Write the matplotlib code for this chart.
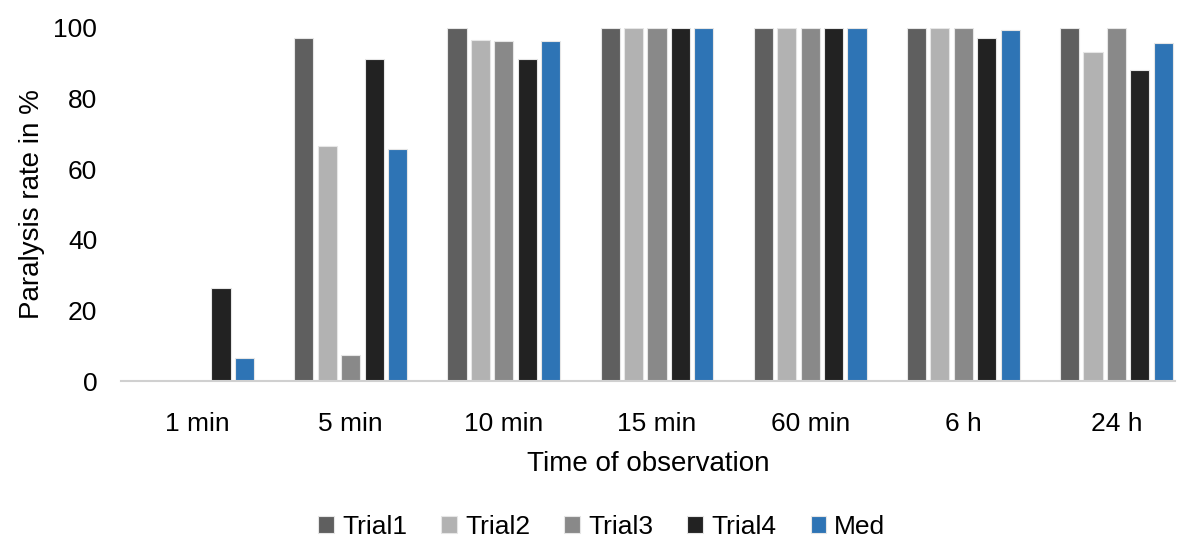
import numpy as np
import matplotlib.pyplot as plt

plt.rcParams['font.family'] = ['Liberation Sans', 'DejaVu Sans']

# data
times = ['1 min', '5 min', '10 min', '15 min', '60 min', '6 h', '24 h']
trial1 = [0, 97.0, 100, 100, 100, 100, 100]
trial2 = [0, 66.6, 96.7, 100, 100, 100, 93.3]
trial3 = [0, 7.5, 96.2, 100, 100, 100, 100]
trial4 = [26.4, 91.1, 91.2, 100, 100, 97.0, 88.1]
med = [6.6, 65.8, 96.3, 100, 100, 99.4, 95.6]

series = [('Trial1', trial1, '#5f5f5f'),
          ('Trial2', trial2, '#b2b2b2'),
          ('Trial3', trial3, '#898989'),
          ('Trial4', trial4, '#222222'),
          ('Med', med, '#2e74b5')]

fig = plt.figure(figsize=(11.8, 5.46), dpi=100)
ax = fig.add_axes([0.1025, 0.302, 0.893, 0.647])

x = np.arange(len(times))
step = 0.153
width = 0.125
for i, (name, vals, col) in enumerate(series):
    ax.bar(x + (i - 2) * step, vals, width, color=col, label=name,
           edgecolor='#e6e6e6', linewidth=0.8)

ax.set_xlim(-0.5, 6.38)
ax.set_ylim(0, 100)
ax.set_yticks([0, 20, 40, 60, 80, 100])
ax.set_xticks(x)
ax.set_xticklabels(times)
ax.tick_params(axis='both', length=0, labelsize=19)
ax.tick_params(axis='x', pad=22)
ax.tick_params(axis='y', pad=17)
for s in ['top', 'right', 'left']:
    ax.spines[s].set_visible(False)
ax.spines['bottom'].set_color('#d0d0d0')
ax.spines['bottom'].set_linewidth(1.5)

ax.set_xlabel('Time of observation', fontsize=20, labelpad=11)
ax.set_ylabel('Paralysis rate in %', fontsize=20, labelpad=6)

fig.legend(loc='lower center', bbox_to_anchor=(0.51, -0.03), ncol=5,
           frameon=False, fontsize=19, handlelength=0.6, handleheight=0.6,
           handletextpad=0.3, columnspacing=1.3)

fig.savefig('out.png', dpi=100)
